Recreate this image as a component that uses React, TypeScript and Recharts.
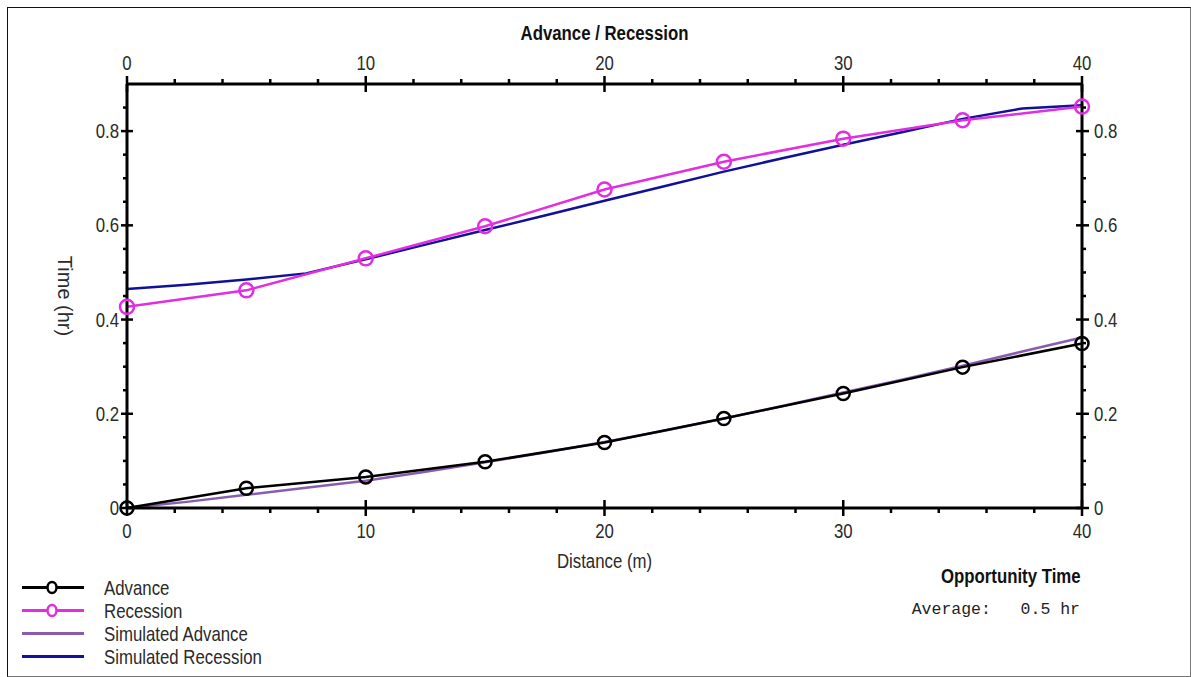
import { Line, LineChart, XAxis, YAxis } from "recharts";

const distances = [0, 5, 10, 15, 20, 25, 30, 35, 40];
const advance = [0, 0.042, 0.066, 0.098, 0.139, 0.19, 0.243, 0.299, 0.349];
const recession = [0.427, 0.462, 0.53, 0.598, 0.676, 0.735, 0.784, 0.823, 0.852];

const simDistances = [0, 2.5, 5, 7.5, 10, 12.5, 15, 17.5, 20, 22.5, 25, 27.5, 30, 32.5, 35, 37.5, 40];
const simAdvance = [0, 0.013, 0.028, 0.043, 0.058, 0.077, 0.097, 0.118, 0.14, 0.164, 0.19, 0.217, 0.245, 0.273, 0.302, 0.332, 0.362];
const simRecession = [0.465, 0.474, 0.485, 0.498, 0.528, 0.559, 0.59, 0.621, 0.652, 0.683, 0.714, 0.743, 0.771, 0.798, 0.826, 0.848, 0.855];

const xMajorTicks = [0, 10, 20, 30, 40];
const xMinorTicks = [2, 4, 6, 8, 12, 14, 16, 18, 22, 24, 26, 28, 32, 34, 36, 38];
const yMajorTicks = [0, 0.2, 0.4, 0.6, 0.8];
const yMinorTicks = [0.05, 0.1, 0.15, 0.25, 0.3, 0.35, 0.45, 0.5, 0.55, 0.65, 0.7, 0.75, 0.85];

const legendItems = [
  { name: "Advance", color: "#000000", marker: true },
  { name: "Recession", color: "#e02ee0", marker: true },
  { name: "Simulated Advance", color: "#8a5cb0", marker: false },
  { name: "Simulated Recession", color: "#10109a", marker: false },
];

const measured = distances.map((d, i) => ({ distance: d, advance: advance[i], recession: recession[i] }));
const simulated = simDistances.map((d, i) => ({ distance: d, simAdvance: simAdvance[i], simRecession: simRecession[i] }));

const xTicks = [...xMajorTicks, ...xMinorTicks].sort((a, b) => a - b);
const yTicks = [...yMajorTicks, ...yMinorTicks].sort((a, b) => a - b);

const FONT = '"Liberation Sans", Arial, sans-serif';
const TICK_COLOR = "#2a2a2a";
const SQUEEZE = 0.8; // the original uses a narrow face

// svg text squeezed horizontally around its anchor point
const NText = ({ x, y, anchor = "middle", size = 21, bold = false, color = TICK_COLOR, children }: any) => (
  <text
    transform={`translate(${x},${y}) scale(${SQUEEZE},1)`}
    textAnchor={anchor}
    fontFamily={FONT}
    fontSize={size}
    fontWeight={bold ? "bold" : "normal"}
    fill={color}
  >
    {children}
  </text>
);

const BottomTick = ({ x, y, payload }: any) => {
  const major = xMajorTicks.includes(payload.value);
  return (
    <g>
      <line x1={x} x2={x} y1={major ? y - 8 : y} y2={y + (major ? 8 : 5)} stroke="#000" strokeWidth={2.5} />
      {major && <NText x={x} y={y + 30}>{payload.value}</NText>}
    </g>
  );
};

const TopTick = ({ x, y, payload }: any) => {
  const major = xMajorTicks.includes(payload.value);
  return (
    <g>
      <line x1={x} x2={x} y1={major ? y + 8 : y} y2={y - (major ? 8 : 5)} stroke="#000" strokeWidth={2.5} />
      {major && <NText x={x} y={y - 14}>{payload.value}</NText>}
    </g>
  );
};

const LeftTick = ({ x, y, payload }: any) => {
  const major = yMajorTicks.includes(payload.value);
  return (
    <g>
      <line x1={major ? x + 6 : x} x2={x - (major ? 6 : 4)} y1={y} y2={y} stroke="#000" strokeWidth={2.5} />
      {major && <NText x={x - 8} y={y + 7} anchor="end">{payload.value}</NText>}
    </g>
  );
};

const RightTick = ({ x, y, payload }: any) => {
  const major = yMajorTicks.includes(payload.value);
  return (
    <g>
      <line x1={major ? x - 6 : x} x2={x + (major ? 7 : 4)} y1={y} y2={y} stroke="#000" strokeWidth={2.5} />
      {major && <NText x={x + 12} y={y + 7} anchor="start">{payload.value}</NText>}
    </g>
  );
};

const TitleLabel = ({ viewBox }: any) => (
  <NText x={viewBox.x + viewBox.width / 2} y={viewBox.y - 43} bold color="#111">
    Advance / Recession
  </NText>
);

const DistanceLabel = ({ viewBox }: any) => (
  <NText x={viewBox.x + viewBox.width / 2} y={viewBox.y + 60}>
    Distance (m)
  </NText>
);

const YLabel = ({ viewBox }: any) => {
  const cx = viewBox.x - 61;
  const cy = viewBox.y + viewBox.height / 2;
  return (
    <text
      x={cx}
      y={cy}
      transform={`rotate(90, ${cx}, ${cy})`}
      textAnchor="middle"
      dominantBaseline="central"
      fontFamily={FONT}
      fontSize={20}
      fill={TICK_COLOR}
    >
      Time (hr)
    </text>
  );
};

const axisLine = { stroke: "#000", strokeWidth: 3 };

const narrowSpan = (origin: string): any => ({
  display: "inline-block",
  transform: `scaleX(${SQUEEZE})`,
  transformOrigin: origin,
  whiteSpace: "nowrap",
});

export default function App() {
  return (
    <div style={{ position: "absolute", left: 0, top: 0, width: 1191, height: 677, background: "#fff", overflow: "hidden" }}>
      <div
        style={{
          position: "absolute",
          left: 7,
          top: 7,
          width: 1182,
          height: 668,
          borderTop: "1.5px solid #111",
          borderLeft: "1.5px solid #111",
          borderBottom: "1.5px solid #777",
          borderRight: "1.5px solid #777",
        }}
      />
      <div style={{ position: "absolute", left: 0, top: 0 }}>
        <LineChart width={1191} height={677} margin={{ top: 83, right: 108, bottom: 168, left: 126 }}>
          <XAxis
            xAxisId="bottom"
            dataKey="distance"
            type="number"
            orientation="bottom"
            domain={[0, 40]}
            ticks={xTicks}
            interval={0}
            height={1}
            tickSize={0}
            tickMargin={0}
            tickLine={false}
            axisLine={axisLine}
            tick={<BottomTick />}
            label={<DistanceLabel />}
          />
          <XAxis
            xAxisId="top"
            dataKey="distance"
            type="number"
            orientation="top"
            domain={[0, 40]}
            ticks={xTicks}
            interval={0}
            height={1}
            tickSize={0}
            tickMargin={0}
            tickLine={false}
            axisLine={axisLine}
            tick={<TopTick />}
            label={<TitleLabel />}
          />
          <YAxis
            yAxisId="left"
            type="number"
            orientation="left"
            domain={[0, 0.9]}
            ticks={yTicks}
            interval={0}
            width={1}
            tickSize={0}
            tickMargin={0}
            tickLine={false}
            axisLine={axisLine}
            tick={<LeftTick />}
            label={<YLabel />}
          />
          <YAxis
            yAxisId="right"
            type="number"
            orientation="right"
            domain={[0, 0.9]}
            ticks={yTicks}
            interval={0}
            width={1}
            tickSize={0}
            tickMargin={0}
            tickLine={false}
            axisLine={axisLine}
            tick={<RightTick />}
          />
          <Line
            data={simulated}
            xAxisId="top"
            yAxisId="right"
            dataKey="simAdvance"
            type="linear"
            stroke={legendItems[2].color}
            strokeWidth={2.5}
            dot={false}
            activeDot={false}
            isAnimationActive={false}
          />
          <Line
            data={simulated}
            xAxisId="top"
            yAxisId="right"
            dataKey="simRecession"
            type="linear"
            stroke={legendItems[3].color}
            strokeWidth={2.5}
            dot={false}
            activeDot={false}
            isAnimationActive={false}
          />
          <Line
            data={measured}
            xAxisId="bottom"
            yAxisId="left"
            dataKey="advance"
            type="linear"
            stroke={legendItems[0].color}
            strokeWidth={2.5}
            dot={{ r: 6.5, stroke: legendItems[0].color, strokeWidth: 2.5, fill: "none" }}
            activeDot={false}
            isAnimationActive={false}
          />
          <Line
            data={measured}
            xAxisId="bottom"
            yAxisId="left"
            dataKey="recession"
            type="linear"
            stroke={legendItems[1].color}
            strokeWidth={2.5}
            dot={{ r: 7, stroke: legendItems[1].color, strokeWidth: 2.5, fill: "none" }}
            activeDot={false}
            isAnimationActive={false}
          />
        </LineChart>
      </div>
      <div style={{ position: "absolute", left: 20, top: 576 }}>
        {legendItems.map((item) => (
          <div key={item.name} style={{ display: "flex", alignItems: "center", height: 23 }}>
            <svg width={66} height={23}>
              <line x1={2} x2={64} y1={11.5} y2={11.5} stroke={item.color} strokeWidth={3} />
              {item.marker && <ellipse cx={32} cy={11.5} rx={4.5} ry={5.5} fill="#fff" stroke={item.color} strokeWidth={2.5} />}
            </svg>
            <span style={{ marginLeft: 18, fontFamily: FONT, fontSize: 21, color: TICK_COLOR, lineHeight: "23px", ...narrowSpan("left center") }}>
              {item.name}
            </span>
          </div>
        ))}
      </div>
      <div
        style={{
          position: "absolute",
          right: 1191 - 1081,
          top: 564,
          fontFamily: FONT,
          fontSize: 21,
          fontWeight: "bold",
          color: "#111",
          ...narrowSpan("right center"),
        }}
      >
        Opportunity Time
      </div>
      <div
        style={{
          position: "absolute",
          right: 1191 - 1080,
          top: 600,
          fontFamily: '"Liberation Mono", "Courier New", monospace',
          fontSize: 16.5,
          color: "#222",
          whiteSpace: "pre",
        }}
      >
        {"Average:   0.5 hr"}
      </div>
    </div>
  );
}
